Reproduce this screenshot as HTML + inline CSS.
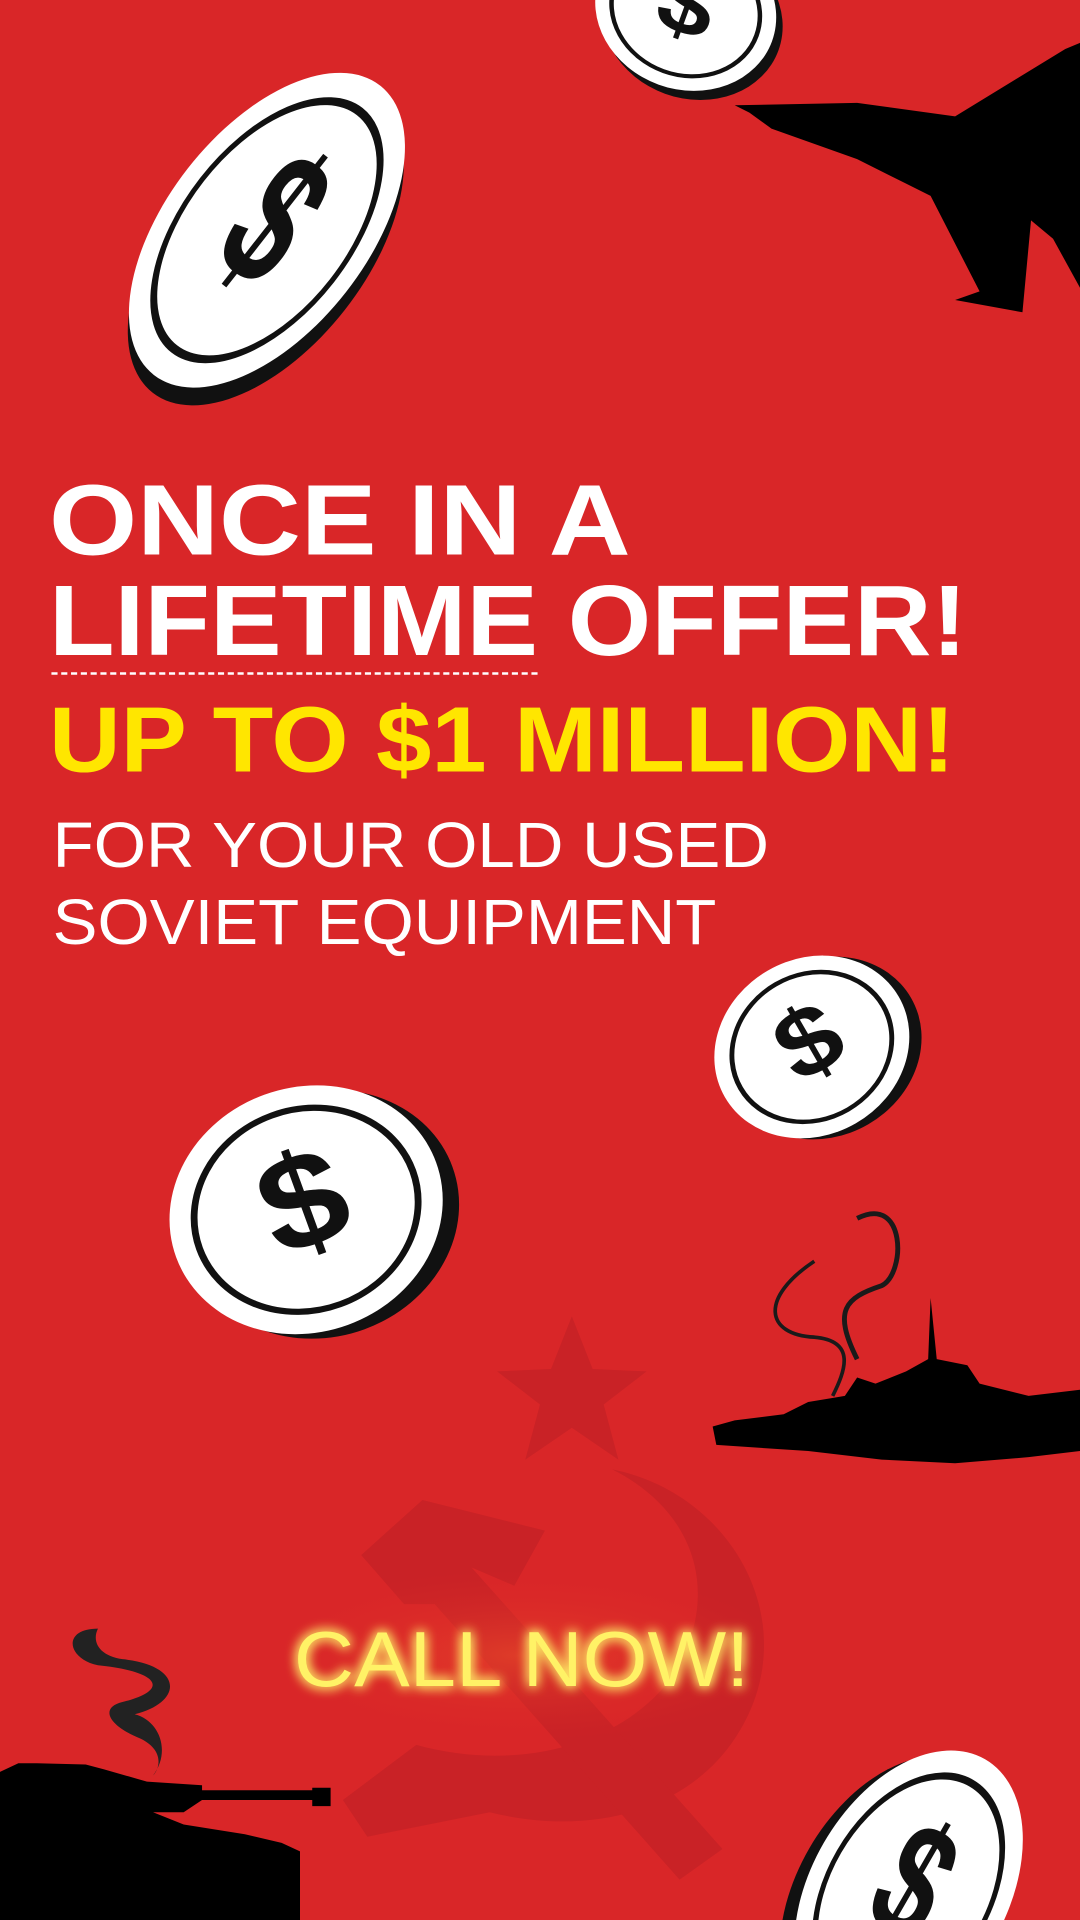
<!DOCTYPE html>
<html><head><meta charset="utf-8"><style>
html,body{margin:0;padding:0;background:#D92628;width:1080px;height:1920px;overflow:hidden;}
svg{display:block}
</style></head><body>
<svg width="1080" height="1920" viewBox="0 0 882 1568" xmlns="http://www.w3.org/2000/svg">
<defs>
<filter id="glow" x="-30%" y="-60%" width="160%" height="220%"><feGaussianBlur stdDeviation="5" result="b"/><feMerge><feMergeNode in="b"/><feMergeNode in="b"/><feMergeNode in="SourceGraphic"/></feMerge></filter>
<radialGradient id="halo"><stop offset="0" stop-color="#E8472A" stop-opacity="0.7"/><stop offset="1" stop-color="#D92628" stop-opacity="0"/></radialGradient>
<g id="coin">
<ellipse cx="10" cy="8" rx="100" ry="100" fill="#111"/>
<ellipse cx="0" cy="0" rx="100" ry="100" fill="#fff"/>
<ellipse cx="0" cy="0" rx="82" ry="82" fill="none" stroke="#111" stroke-width="5"/>
<text x="0" y="30" text-anchor="middle" font-family="Liberation Sans, sans-serif" font-weight="bold" font-size="110" fill="#111">$</text>
</g>
<g id="coinL">
<ellipse cx="-10" cy="8" rx="100" ry="100" fill="#111"/>
<ellipse cx="0" cy="0" rx="100" ry="100" fill="#fff"/>
<ellipse cx="0" cy="0" rx="82" ry="82" fill="none" stroke="#111" stroke-width="5"/>
<text x="0" y="30" text-anchor="middle" font-family="Liberation Sans, sans-serif" font-weight="bold" font-size="110" fill="#111">$</text>
</g>
</defs>
<rect width="882" height="1568" fill="#D92628"/>

<g fill="#C92226">
<polygon points="467,1075 484,1118 528,1120 493,1147 505,1192 467,1166 429,1192 441,1147 406,1120 450,1118"/>
<path d="M500,1200 C600,1220 660,1330 600,1420 C560,1480 480,1500 400,1480 L300,1500 L280,1470 L340,1425 C430,1450 520,1420 555,1360 C590,1290 560,1230 500,1200 Z"/>
<polygon points="295,1270 345,1225 445,1250 420,1295 385,1280 590,1510 555,1535 355,1310 330,1310"/>
</g>

<g transform="translate(218,188) rotate(38) scale(0.82,1.5)"><use href="#coin"/></g>
<g transform="translate(560,8) rotate(20) scale(0.75,0.65)"><use href="#coin"/></g>
<g transform="translate(663,855) rotate(-30) scale(0.82,0.72)"><use href="#coin"/></g>
<g transform="translate(250,988) rotate(-20) scale(1.13,1.0)"><use href="#coin"/></g>
<g transform="translate(742,1545) rotate(30) scale(0.8,1.25)"><use href="#coinL"/></g>

<path fill="#000" d="M600,86 L700,84 L780,95 L870,40 L882,35 L882,100 L870,100 L882,90 L882,235 L860,195 L842,180 L835,255 L780,245 L800,238 L760,160 L740,150 L700,130 L630,105 L612,92 Z"/>

<g>
<path fill="none" stroke="#1a1a1a" stroke-width="3" d="M665,1030 C620,1060 625,1090 665,1092 C700,1095 690,1120 680,1140"/>
<path fill="none" stroke="#1a1a1a" stroke-width="4" d="M700,995 C740,975 740,1040 720,1050 C690,1060 680,1070 700,1110"/>
<path fill="#000" d="M582,1165 L600,1160 L640,1155 L660,1145 L690,1140 L700,1125 L715,1130 L740,1120 L758,1110 L760,1060 L765,1110 L790,1115 L800,1130 L840,1140 L882,1135 L882,1185 L840,1190 L780,1195 L720,1192 L660,1185 L585,1180 Z"/>
</g>

<g>
<path fill="#222" d="M80,1330 C50,1330 55,1355 80,1360 C130,1365 140,1380 100,1390 C80,1395 90,1410 115,1420 C135,1430 130,1445 125,1450 C140,1430 130,1405 110,1400 C150,1390 150,1360 100,1355 C80,1352 75,1340 80,1330 Z"/>
<path fill="#000" d="M0,1447 L15,1440 L30,1440 L70,1441 L85,1445 L120,1455 L165,1458 L165,1462 L255,1462 L255,1460 L270,1460 L270,1475 L255,1475 L255,1470 L165,1470 L150,1480 L125,1480 L150,1490 L200,1498 L230,1505 L245,1512 L245,1568 L0,1568 Z"/>
</g>

<g font-family="Liberation Sans, sans-serif" fill="#fff" font-weight="bold">
<text x="40" y="453" font-size="82" textLength="475" lengthAdjust="spacingAndGlyphs">ONCE IN A</text>
<text x="40" y="535" font-size="82" textLength="750" lengthAdjust="spacingAndGlyphs">LIFETIME OFFER!</text>
</g>
<line x1="42" y1="550" x2="442" y2="550" stroke="#fff" stroke-width="2" stroke-dasharray="5,3"/>
<text x="40" y="630" font-family="Liberation Sans, sans-serif" font-weight="bold" font-size="76" fill="#FFE600" textLength="740" lengthAdjust="spacingAndGlyphs">UP TO $1 MILLION!</text>
<g font-family="Liberation Sans, sans-serif" fill="#fff">
<text x="43" y="708" font-size="52" textLength="585" lengthAdjust="spacingAndGlyphs">FOR YOUR OLD USED</text>
<text x="43" y="771" font-size="52" textLength="542" lengthAdjust="spacingAndGlyphs">SOVIET EQUIPMENT</text>
</g>

<ellipse cx="425" cy="1352" rx="220" ry="70" fill="url(#halo)"/>
<text x="240" y="1377" font-family="Liberation Sans, sans-serif" font-size="64" fill="#FFF266" textLength="372" lengthAdjust="spacingAndGlyphs" filter="url(#glow)">CALL NOW!</text>
</svg>
</body></html>
